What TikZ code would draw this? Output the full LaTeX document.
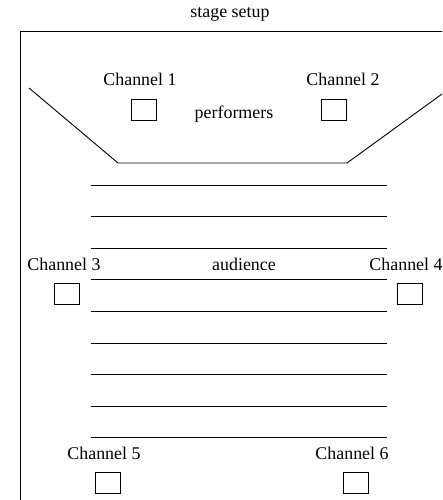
\documentclass[tikz,border=0pt]{standalone}
\usepackage{fontspec}
\setmainfont{Liberation Serif}
\begin{document}
\begin{tikzpicture}[x=1pt,y=-1pt,line width=.9pt,
  mic/.style={draw,minimum width=25pt,minimum height=21pt,inner sep=0pt},
  lbl/.style={font=\fontsize{17.9}{20}\selectfont,inner sep=0pt,anchor=base}]
 \useasboundingbox (0,0) rectangle (442,500);
 \clip (0,0) rectangle (442,500);
 % hall outline
 \draw (20,520) -- (20,31) -- (460,31);
 \node[lbl] (title) at (230,18) {stage setup};
 % stage
 \draw (29,88) -- (118,163) -- (347,163) -- (442,94);
 \node[lbl] (perf) at (234,118) {performers};
 % rows
 \foreach \k in {0,...,8}
  \draw (91,185+31.6*\k) -- (387,185+31.6*\k);
 \node[lbl] (aud) at (244,270) {audience};
 % channels
 \node[lbl] (l1) at (140,86) {Channel 1};
 \node[mic] (c1) at (144,110) {};
 \node[lbl] (l2) at (343,86) {Channel 2};
 \node[mic] (c2) at (334,110) {};
 \node[lbl] (l3) at (64,270) {Channel 3};
 \node[mic] (c3) at (67,294) {};
 \node[lbl] (l4) at (406,270) {Channel 4};
 \node[mic] (c4) at (410,294) {};
 \node[lbl] (l5) at (104,459) {Channel 5};
 \node[mic] (c5) at (108,483) {};
 \node[lbl] (l6) at (352,459) {Channel 6};
 \node[mic] (c6) at (356,483) {};
\end{tikzpicture}
\end{document}
